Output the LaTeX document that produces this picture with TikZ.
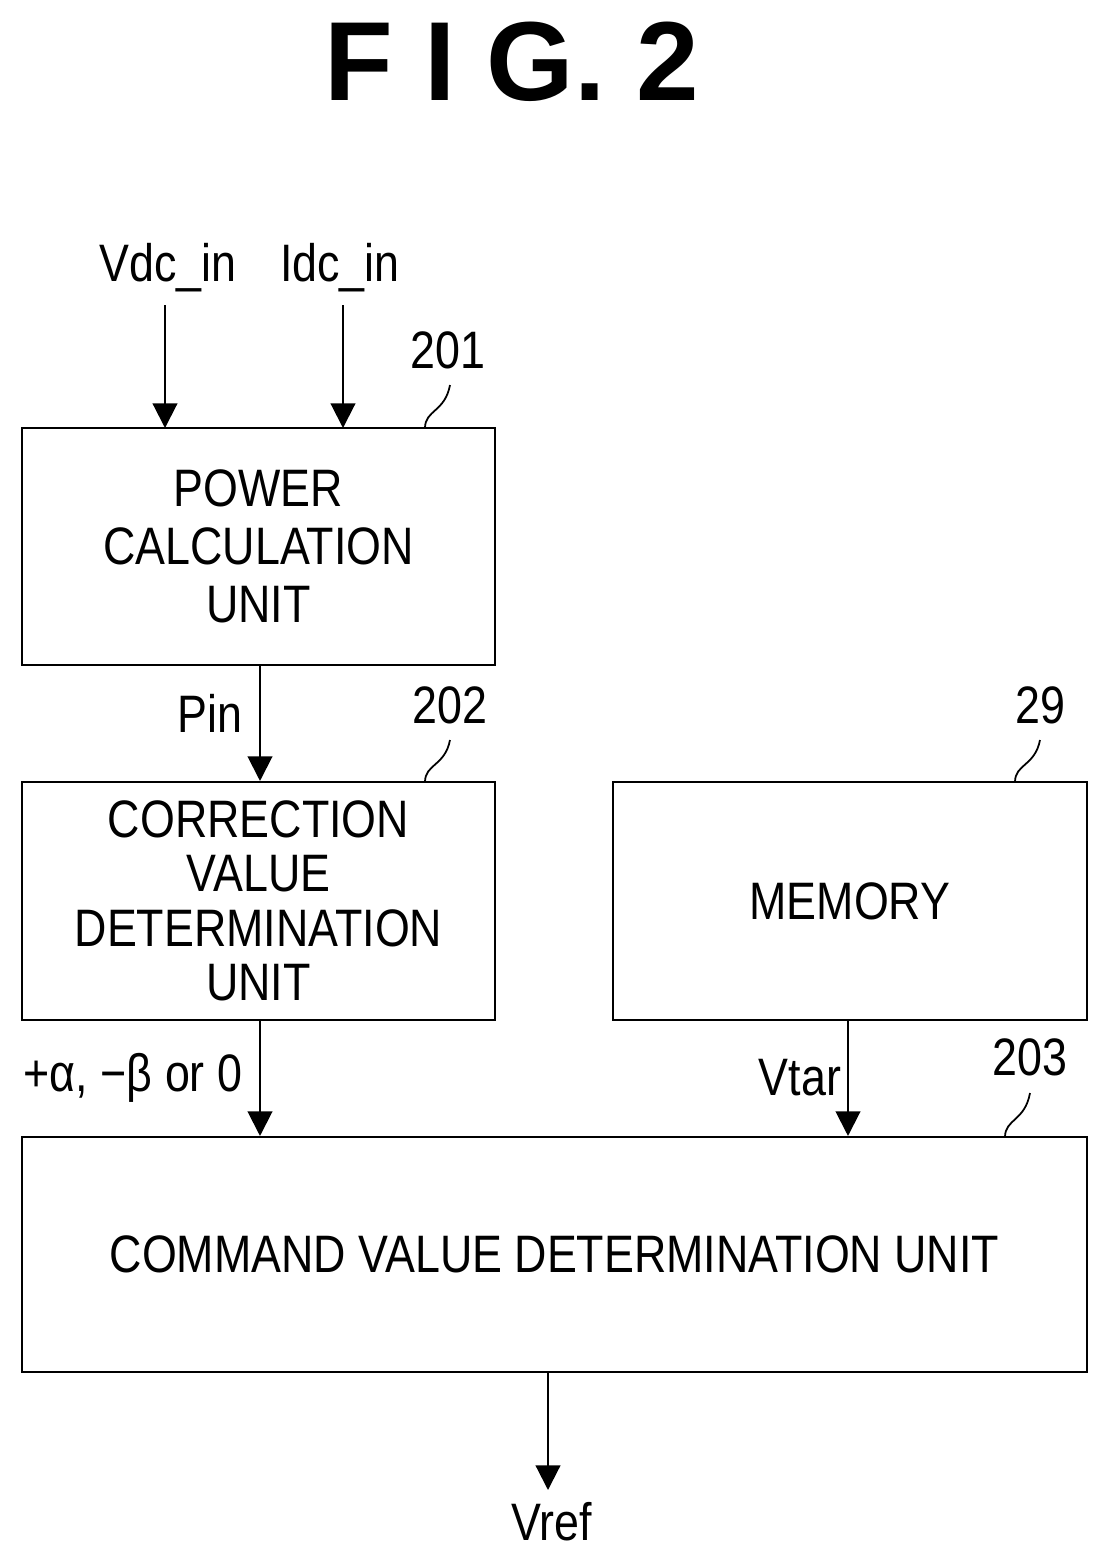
\documentclass[tikz,border=0pt]{standalone}
\usepackage{fontspec}
\setmainfont[FakeStretch=0.85]{Liberation Sans}
\newfontfamily\titlefont{Liberation Sans}
\usetikzlibrary{arrows.meta}
\begin{document}
\begin{tikzpicture}[x=0.02cm,y=-0.02cm,
 box/.style={draw,line width=1.2pt,inner sep=0pt,align=center,font=\fontsize{30}{33}\selectfont},
 lbl/.style={font=\fontsize{30}{36}\selectfont},
 arr/.style={line width=1.2pt,-{Triangle[width=14pt,length=14pt]}},
 lead/.style={line width=1pt}]
\useasboundingbox (0,0) rectangle (1109,1559);
\node[font=\titlefont\bfseries\fontsize{64}{70}\selectfont] (t) at (512,62) {F I G. 2};
\node[box,minimum width=9.46cm,minimum height=4.74cm] (b201) at (258.5,546.5) {POWER\\CALCULATION\\UNIT};
\node[box,minimum width=9.46cm,minimum height=4.76cm,font=\fontsize{30}{31}\selectfont] (b202) at (258.5,901) {CORRECTION\\VALUE\\DETERMINATION\\UNIT};
\node[box,minimum width=9.48cm,minimum height=4.76cm] (b29) at (850,901) {MEMORY};
\node[box,minimum width=21.3cm,minimum height=4.7cm] (b203) at (554.5,1254.5) {COMMAND VALUE DETERMINATION UNIT};
\node[lbl] (vdc) at (168,268) {Vdc\_in};
\node[lbl] (idc) at (340,268) {Idc\_in};
\coordinate (v0) at (165,305); \coordinate (v1) at (165,428);
\coordinate (i0) at (343,305); \coordinate (i1) at (343,428);
\draw[arr] (v0) -- (v1);
\draw[arr] (i0) -- (i1);
\draw[arr] (b201.south -| 260,0) -- (b202.north -| 260,0);
\node[lbl] (pin) at (210,713) {Pin};
\draw[arr] (b202.south -| 260,0) -- (b203.north -| 260,0);
\node[lbl] (ab) at (133,1078) {+α, −β or 0};
\draw[arr] (b29.south -| 848,0) -- (b203.north -| 848,0);
\node[lbl] (vtar) at (800,1078) {Vtar};
\coordinate (r1) at (548,1490);
\draw[arr] (b203.south -| 548,0) -- (r1);
\node[lbl] (vref) at (552,1522) {Vref};
\node[lbl] (n201) at (448,350) {201};
\node[lbl] (n202) at (450,705) {202};
\node[lbl] (n29) at (1040,705) {29};
\node[lbl] (n203) at (1030,1057) {203};
\draw[lead] (425,428) .. controls (425,410) and (445,412) .. (450,385);
\draw[lead] (425,782) .. controls (425,764) and (445,766) .. (450,740);
\draw[lead] (1015,782) .. controls (1015,764) and (1035,766) .. (1040,740);
\draw[lead] (1005,1137) .. controls (1005,1119) and (1025,1121) .. (1030,1093);
\end{tikzpicture}
\end{document}
